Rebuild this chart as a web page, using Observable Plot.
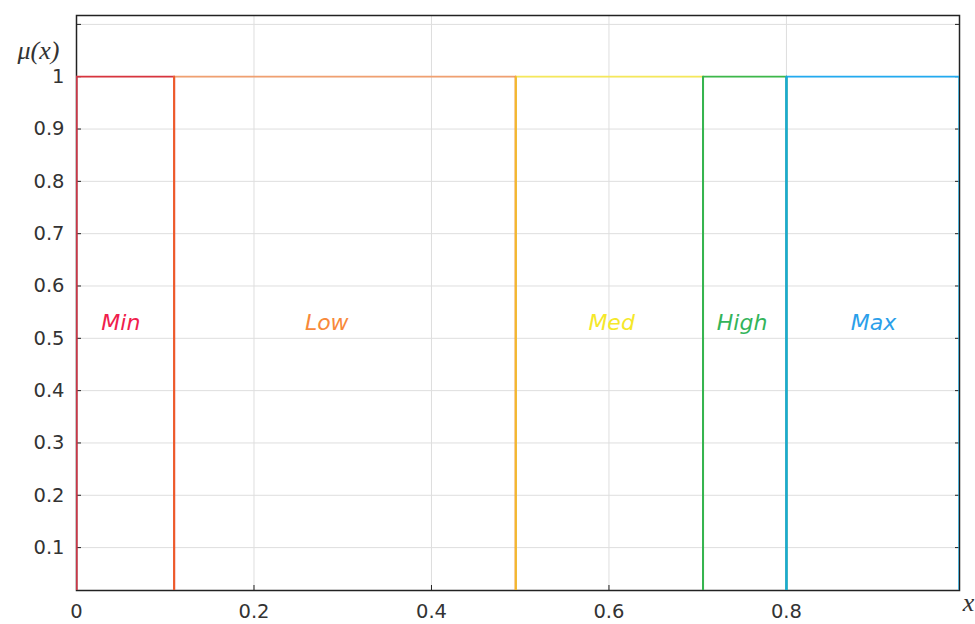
<!DOCTYPE html>
<html><head><meta charset="utf-8">
<script src="https://cdn.jsdelivr.net/npm/d3@7"></script>
<script src="https://cdn.jsdelivr.net/npm/@observablehq/plot@0.6"></script>
<style>body{margin:0;background:#fff}</style>
</head><body><div id="chart"></div>
<script>
const names = ["Min", "Low", "Med", "High", "Max"];
const starts = [0, 0.11, 0.495, 0.706, 0.8];
const ends = [0.11, 0.495, 0.706, 0.8, 0.995];
const tops = [1, 1, 1, 1, 1];
const lineColors = ["#d8343e", "#f0a070", "#f5e85a", "#3cb84a", "#22aaf0"];
const edgeColors = ["#c83848", "#ee5a2a", "#f2b830", "#36b450", "#1aa8d8"];
const textColors = ["#f0204c", "#f8893a", "#f5e82a", "#33b45a", "#2b9fea"];
const labelX = [0.05, 0.282, 0.603, 0.75, 0.898];
const labelY = [0.53, 0.53, 0.53, 0.53, 0.53];
const xTicks = [0, 0.2, 0.4, 0.6, 0.8];
const xGrid = [0.2, 0.4, 0.6, 0.8];
const yTicks = [0.1, 0.2, 0.3, 0.4, 0.5, 0.6, 0.7, 0.8, 0.9, 1];
const yGrid = [0.1, 0.2, 0.3, 0.4, 0.5, 0.6, 0.7, 0.8, 0.9, 1, 1.1];
const xDomain = [0, 0.995];
const yDomain = [0.018, 1.117];

const marks = [];
marks.push(Plot.gridX(xGrid, {stroke: "#dedede", strokeOpacity: 1}));
marks.push(Plot.gridY(yGrid, {stroke: "#dedede", strokeOpacity: 1}));
marks.push(Plot.frame({stroke: "#222", strokeWidth: 1.5}));
marks.push(Plot.axisX({ticks: xTicks, tickSize: 0, tickPadding: 14, tickFormat: d => String(d), fontSize: 19.5, fontFamily: "DejaVu Sans", fill: "#333", label: null}));
marks.push(Plot.axisX({ticks: xGrid, tickSize: -5, tickFormat: () => "", label: null, stroke: "#222"}));
marks.push(Plot.axisY({ticks: yTicks, tickSize: 0, tickPadding: 12, tickFormat: d => String(d), fontSize: 19.5, fontFamily: "DejaVu Sans", fill: "#333", label: null}));
marks.push(Plot.axisY({ticks: yGrid, tickSize: -5, tickFormat: () => "", label: null, stroke: "#222"}));
marks.push(Plot.axisY({ticks: yGrid, anchor: "right", tickSize: -5, tickFormat: () => "", label: null, stroke: "#222"}));

names.forEach((n, i) => {
  const pts = [
    {x: starts[i], y: 0}, {x: starts[i], y: tops[i]},
    {x: ends[i], y: tops[i]}, {x: ends[i], y: 0}
  ];
  marks.push(Plot.line(pts, {x: "x", y: "y", stroke: lineColors[i], strokeWidth: 1.7, clip: true}));
  marks.push(Plot.line([pts[0], pts[1]], {x: "x", y: "y", stroke: edgeColors[i], strokeWidth: 2, clip: true}));
  marks.push(Plot.line([pts[2], pts[3]], {x: "x", y: "y", stroke: edgeColors[i], strokeWidth: 2, clip: true}));
});
names.forEach((n, i) => {
  marks.push(Plot.text([n], {x: () => labelX[i], y: () => labelY[i], text: d => d, fill: textColors[i],
    fontSize: 22, fontStyle: "italic", fontFamily: "DejaVu Sans", letterSpacing: 2}));
});
marks.push(Plot.text(["μ(x)"], {frameAnchor: "top-left", textAnchor: "middle", dx: -38, dy: 25, text: d => d, fontSize: 26, fontStyle: "italic", fontFamily: "Liberation Serif", fill: "#333", letterSpacing: 1}));
marks.push(Plot.text(["x"], {frameAnchor: "bottom-right", textAnchor: "middle", dx: 9, dy: 20, text: d => d, fontSize: 26, fontStyle: "italic", fontFamily: "Liberation Serif", fill: "#333"}));

const chart = Plot.plot({
  width: 975, height: 624,
  marginLeft: 76, marginRight: 16, marginTop: 15, marginBottom: 34,
  x: {domain: xDomain, axis: null},
  y: {domain: yDomain, axis: null},
  style: {background: "#fff"},
  marks
});
document.getElementById("chart").appendChild(chart);
</script>
</body></html>
